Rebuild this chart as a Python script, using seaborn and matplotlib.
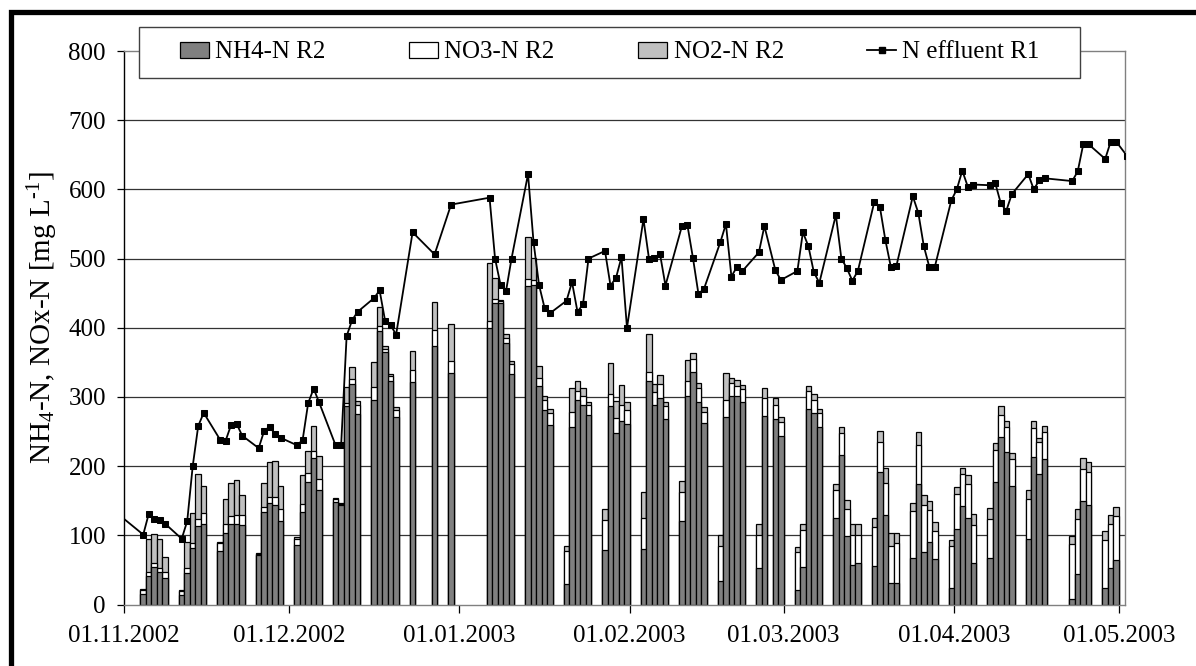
import numpy as np
import pandas as pd
import matplotlib
matplotlib.use("Agg")
import matplotlib.pyplot as plt
import seaborn as sns
from matplotlib.patches import Rectangle, Patch
from matplotlib.lines import Line2D

# ---------------- data ----------------
start_date = "2002-11-01"
# measurement days, counted in days since 01.11.2002
bar_day = [3, 4, 5, 6, 7, 10, 11, 12, 13, 14, 17, 18, 19, 20, 21, 24, 25, 26, 27, 28,
           31, 32, 33, 34, 35, 38, 39, 40, 41, 42, 45, 46, 47, 48, 49, 52, 56, 59,
           66, 67, 68, 69, 70, 73, 74, 75, 76, 77, 80, 81, 82, 83, 84, 87, 88, 89, 90, 91,
           94, 95, 96, 97, 98, 101, 102, 103, 104, 105, 108, 109, 110, 111, 112,
           115, 116, 118, 119, 122, 123, 124, 125, 126, 129, 130, 131, 132, 133,
           136, 137, 138, 139, 140, 143, 144, 145, 146, 147, 150, 151, 152, 153, 154,
           157, 158, 159, 160, 161, 164, 165, 166, 167, 172, 173, 174, 175, 178, 179, 180]
nh4_r2 = [15, 41.5, 53.7, 46.4, 38.6, 13.7, 45.9, 81.5, 113.2, 115.7, 77.6, 103.5, 115.7, 117, 114.2,
          71.7, 134.2, 146, 144, 120.5, 86.4, 133.7, 177.6, 211.8, 166, 148.4, 144, 286.5, 319.2, 275.3,
          296.2, 395.3, 364.6, 323, 270.4, 321.6, 372.9, 335.3,
          400.2, 435.3, 435.3, 377.7, 333.8, 459.7, 462.2, 315.8, 281.6, 259.6,
          30.3, 257.2, 296.2, 288.9, 273.3, 79, 286.5, 247.4, 264.5, 261.1,
          80.5, 323, 288, 298.7, 268.4, 120.5, 301.1, 336.7, 292.8, 263,
          34.2, 270.4, 301.1, 301.1, 292.8, 53.2, 272.8, 267.9, 243.5,
          20.5, 53.7, 283, 276.7, 257.2, 124.5, 215.7, 98.6, 57.1, 59.5,
          55.6, 191.3, 129.3, 31.2, 31.2, 67.8, 174.2, 75.2, 89.8, 65.4,
          23.9, 109.3, 142.5, 124.5, 60.5, 66.9, 176.7, 242.6, 220.6, 171.8,
          95.2, 213.3, 188.9, 209.9, 7.3, 43.9, 148.9, 143.5, 23.9, 52.2, 64.4]
no3_r2 = [5.5, 6, 6, 6.8, 8.7, 5.3, 6.3, 7.3, 9.8, 16.1, 11.2, 12.2, 12.2, 12.3, 15.1,
          1, 6.8, 9.8, 11.7, 17, 8.8, 11.2, 12.2, 10.2, 15.6, 3.9, 1, 4.8, 6.3, 12.7,
          18.1, 7.3, 4.8, 7.4, 11.2, 17.1, 24.4, 17.1,
          10.2, 5.9, 3.9, 7.9, 13.7, 10.8, 7.3, 12.2, 14.6, 17.1,
          47.3, 21, 12.2, 12.2, 14.7, 42.5, 17.1, 22, 23.5, 20.5,
          44.9, 13.7, 19.5, 19.5, 18.1, 42.5, 21.9, 18.1, 19.5, 15.2,
          49.7, 25.8, 19.5, 14.7, 18.1, 47.8, 25.9, 21, 20,
          55.1, 53.7, 25.4, 19.5, 19.5, 41.4, 31.7, 39, 43.9, 41.5,
          56.7, 43, 46.4, 53.7, 57.6, 67.4, 56.2, 68.8, 46.4, 41.5,
          61, 50.3, 46.4, 49.7, 53.7, 57.1, 46.3, 31.7, 36.6, 39,
          57.1, 41.5, 45.4, 39, 80.5, 79.1, 47.3, 47.8, 68.8, 63.5, 63.5]
no2_r2 = [2.5, 47, 41.5, 40.8, 21, 2.5, 37.6, 43, 66, 40, 1.5, 36.6, 47.8, 50, 28.8,
          2.4, 34.2, 50.3, 51.2, 34.2, 2.4, 42.5, 31.7, 36.7, 33.1, 1.4, 1, 23.5, 17.1, 5.8,
          36.6, 27.9, 3.5, 3.4, 3.9, 27.3, 39.5, 53.7,
          83.5, 30.8, 1, 4.8, 4.9, 60, 31.7, 17, 4.9, 6.3,
          7.3, 35.1, 14.6, 11.2, 4.8, 17.1, 44.9, 25.4, 29.3, 11.2,
          37.6, 54.7, 11.7, 13.2, 6.3, 16, 30.3, 8.3, 8.3, 6.8,
          17.1, 39.1, 7.4, 8.7, 5.8, 15.6, 14.6, 9.8, 7.4,
          7.3, 8.3, 7.4, 7.4, 6.3, 8.3, 8.8, 13.7, 14.7, 14.7,
          13.1, 16.6, 22, 18.6, 14.7, 12.2, 18.5, 14.1, 12.7, 12.2,
          7.8, 10.7, 8.8, 13.2, 17.1, 15.1, 9.8, 12.2, 8.3, 8.8,
          13.6, 10.7, 5.8, 9.3, 10.8, 15.6, 15.6, 14.7, 14.2, 13.1, 13.6]

line_day = [-1, 3, 4, 5, 6, 7, 10, 11, 12, 13, 14, 17, 18, 19, 20, 21, 24, 25, 26, 27, 28,
            31, 32, 33, 34, 35, 38, 39, 40, 41, 42, 45, 46, 47, 48, 49, 52, 56, 59,
            66, 67, 68, 69, 70, 73, 74, 75, 76, 77, 80, 81, 82, 83, 84, 87, 88, 89, 90, 91,
            94, 95, 96, 97, 98, 101, 102, 103, 104, 105, 108, 109, 110, 111, 112,
            115, 116, 118, 119, 122, 123, 124, 125, 126, 129, 130, 131, 132, 133,
            136, 137, 138, 139, 140, 143, 144, 145, 146, 147, 150, 151, 152, 153, 154,
            157, 158, 159, 160, 161, 164, 165, 166, 167, 172, 173, 174, 175, 178, 179, 180, 182]
n_effluent_r1 = [127, 101, 131, 124, 121.5, 116.6, 95, 120.5, 200, 258, 277, 238, 237, 260, 261, 244,
                 226, 251, 257, 246, 241, 230, 238, 291, 312, 292, 230, 230, 388, 411, 423,
                 443, 454, 410, 404, 390, 538, 506, 578,
                 588, 500, 462, 453, 500, 622, 524, 462, 429, 421, 439, 466, 423, 434, 500,
                 511, 461, 472, 502, 400, 557, 500, 501, 507, 461, 547, 548, 501, 449, 456,
                 524, 550, 474, 488, 482, 509, 547, 483, 469, 482, 538, 518, 480, 465,
                 563, 500, 486, 468, 482, 582, 575, 527, 488, 489, 590, 566, 518, 488, 488,
                 584, 600, 627, 604, 607, 606, 609, 580, 569, 593, 622, 600, 613, 616,
                 612, 626, 665, 665, 644, 669, 669, 648]

tick_dates = ["2002-11-01", "2002-12-01", "2003-01-01", "2003-02-01",
              "2003-03-01", "2003-04-01", "2003-05-01"]
tick_labels = ["01.11.2002", "01.12.2002", "01.01.2003", "01.02.2003",
               "01.03.2003", "01.04.2003", "01.05.2003"]
series_names = ["NH4-N R2", "NO3-N R2", "NO2-N R2", "N effluent R1"]
y_ticks = [0, 100, 200, 300, 400, 500, 600, 700, 800]
y_label = r"NH$_4$-N, NOx-N [mg L$^{\text{-}1}$]"

# ---------------- style ----------------
plt.rcParams["font.family"] = ["Liberation Serif", "DejaVu Serif"]
plt.rcParams["mathtext.fontset"] = "custom"
plt.rcParams["mathtext.rm"] = "Liberation Serif"
plt.rcParams["mathtext.it"] = "Liberation Serif:italic"
plt.rcParams["mathtext.bf"] = "Liberation Serif:bold"

C_NH4, C_NO3, C_NO2 = "#808080", "#ffffff", "#c0c0c0"
W, H = 1196, 666
fig = plt.figure(figsize=(W / 100, H / 100), dpi=100)
ax = fig.add_axes([124 / W, 1 - 604.5 / H, (1125 - 124) / W, (604.5 - 51) / H])

t0 = pd.Timestamp(start_date)
xb = np.array(bar_day, dtype=float) + 0.5
nh4 = np.array(nh4_r2)
no3 = np.array(no3_r2)
no2 = np.array(no2_r2)
bars = pd.DataFrame({"x": xb, "total": nh4 + no3 + no2, "nh4no3": nh4 + no3, "nh4": nh4})

for col, colr in [("total", C_NO2), ("nh4no3", C_NO3), ("nh4", C_NH4)]:
    sns.barplot(data=bars, x="x", y=col, native_scale=True, width=1.0, color=colr,
                saturation=1, edgecolor="black", linewidth=0.9, errorbar=None, ax=ax)

line = pd.DataFrame({"x": np.array(line_day, dtype=float) + 0.5, "y": n_effluent_r1})
sns.lineplot(data=line, x="x", y="y", color="black", linewidth=1.3, marker="s",
             markersize=4.5, markeredgecolor="black", markerfacecolor="black",
             ax=ax, zorder=6, legend=False)

ax.set_axisbelow(True)
ax.set_xlim(0, 182.1)
ax.set_ylim(0, 800)
ax.hlines(y_ticks[1:-1], 0, 182.1, colors="#333333", linewidth=0.9, zorder=0.5)

tick_pos = [(pd.Timestamp(d) - t0).days for d in tick_dates]
ax.set_xticks(tick_pos)
ax.set_xticklabels(tick_labels)
ax.set_yticks(y_ticks)
ax.set_yticklabels([str(v) for v in y_ticks])
ax.tick_params(axis="y", direction="out", length=5, width=0.9, pad=8, labelsize=18, colors="black")
ax.tick_params(axis="x", direction="out", length=6, width=0.9, pad=9, labelsize=18, colors="black")
ax.set_xlabel("")
ax.set_ylabel(y_label, fontsize=21, va="center")
ax.yaxis.set_label_coords(-0.081, 0.5185)

for s in ["top", "right", "bottom"]:
    ax.spines[s].set_color("#808080")
    ax.spines[s].set_linewidth(1.0)
ax.spines["left"].set_color("black")
ax.spines["left"].set_linewidth(1.0)

# legend box
fig.patches.append(Rectangle((139 / W, 1 - 78 / H), (1080 - 139) / W, 51 / H,
                             transform=fig.transFigure, facecolor="white",
                             edgecolor="#404040", linewidth=1.0, zorder=3))
handles = [Patch(facecolor=C_NH4, edgecolor="black", linewidth=0.9),
           Patch(facecolor=C_NO3, edgecolor="black", linewidth=0.9),
           Patch(facecolor=C_NO2, edgecolor="black", linewidth=0.9),
           Line2D([], [], color="black", linewidth=1.3, marker="s", markersize=4.5)]
leg = fig.legend(handles, series_names, loc="center", bbox_to_anchor=(610 / W, 1 - 52.5 / H),
                 ncol=4, frameon=False, fontsize=18, handlelength=1.16, handleheight=0.6,
                 handletextpad=0.25, columnspacing=3.34, borderpad=0)
leg.set_zorder(5)

# outer chart border (only left and top visible)
fig.patches.append(Rectangle((10.5 / W, -0.1), 1.2, 1.1 - 11.5 / H, transform=fig.transFigure,
                             fill=False, edgecolor="black", linewidth=3.8, zorder=10))

fig.savefig("out.png", dpi=100)
